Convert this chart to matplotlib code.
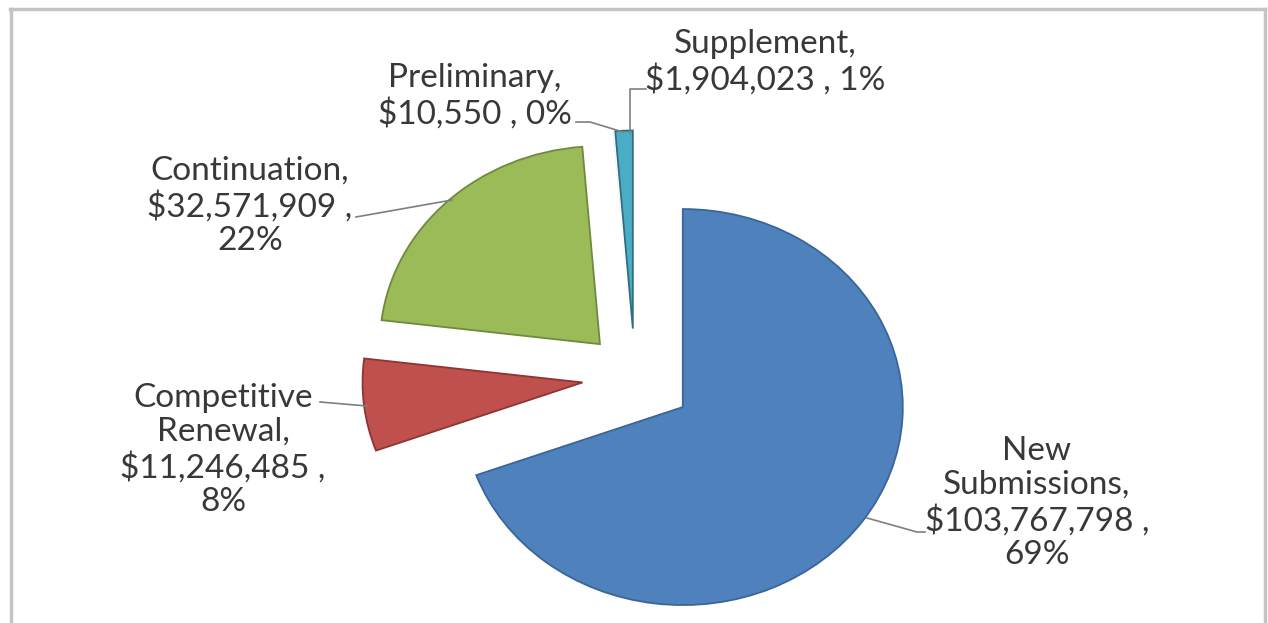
import numpy as np
import matplotlib.pyplot as plt
from matplotlib.lines import Line2D

categories = ["New Submissions", "Competitive Renewal", "Continuation", "Preliminary", "Supplement"]
values = [103767798, 11246485, 32571909, 10550, 1904023]
colors = ["#4F81BD", "#C0504D", "#9BBB59", "#8064A2", "#4BACC6"]
edge_colors = ["#3A659A", "#8E3532", "#6F8A3C", "#8064A2", "#2D6F80"]
explode = [0.265, 0.24, 0.23, 0.24, 0.245]

# label layout: split the name over lines? put the percent on its own line?
split_name = [True, True, False, False, False]
pct_own_line = [True, True, True, False, False]
# label centres and leader lines, in image pixels
label_pos = [(1037, 503), (223, 450), (250, 206), (475, 96), (765, 62)]
leaders = [
    [(867, 518), (917, 532), (925, 532)],
    [(320, 402), (367, 406)],
    [(356, 217), (452, 200)],
    [(576, 122), (590, 122), (623, 132)],
    [(630, 134), (630, 89), (646, 89)],
]

W, H = 1268, 623
CX, CY = 635, 377   # pie centre (pixels, y down)
RX, RY = 220, 198   # the reference pie is slightly squashed

def px(x, y):
    return (x - CX) / RX, (CY - y) / RY

fig = plt.figure(figsize=(W / 100, H / 100), dpi=100)
ax = fig.add_axes([0, 0, 1, 1])

wedges, _ = ax.pie(values, colors=colors, explode=explode, startangle=90,
                   counterclock=False, wedgeprops=dict(linewidth=1.3))
for w, ec in zip(wedges, edge_colors):
    w.set_edgecolor(ec)
wedges[3].set_linewidth(0)   # the 0% slice is just a hairline

ax.set_aspect("auto")
ax.set_xlim(-CX / RX, (W - CX) / RX)
ax.set_ylim(-(H - CY) / RY, CY / RY)
ax.axis("off")

total = sum(values)
for i, name in enumerate(categories):
    pct = f"{round(values[i] / total * 100)}%"
    money = f"${values[i]:,}"
    first = name.replace(" ", "\n") if split_name[i] else name
    sep = " ,\n" if pct_own_line[i] else " , "
    text = f"{first},\n{money}{sep}{pct}"
    x, y = px(*label_pos[i])
    ax.text(x, y, text, ha="center", va="center", fontsize=24,
            family=["Lato", "DejaVu Sans"], color="#383838", linespacing=1.17)
    lx, ly = zip(*[px(*p) for p in leaders[i]])
    ax.plot(lx, ly, color="#7f7f7f", linewidth=1.2)

# chart frame (bottom edge is cut off in the reference)
frame = dict(color="#c4c4c4", linewidth=2.5, transform=fig.transFigure)
fig.add_artist(Line2D([10 / W, 1265 / W], [1 - 9 / H, 1 - 9 / H], **frame))
fig.add_artist(Line2D([11 / W, 11 / W], [0, 1 - 9 / H], **frame))
fig.add_artist(Line2D([1265 / W, 1265 / W], [0, 1 - 9 / H], **frame))

fig.savefig("out.png", dpi=100)
